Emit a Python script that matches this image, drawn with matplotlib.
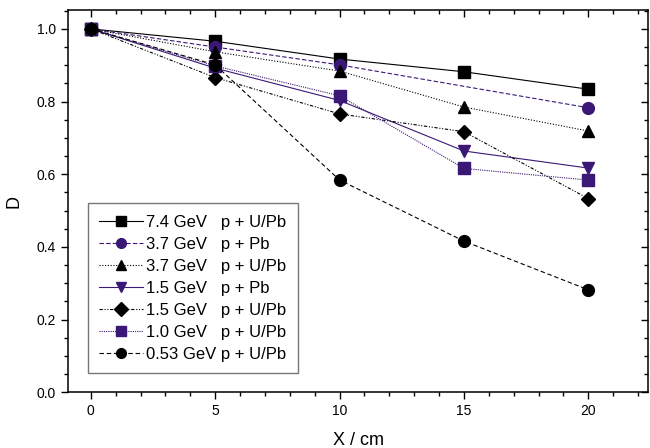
import matplotlib
matplotlib.use("Agg")
import matplotlib.pyplot as plt
from matplotlib.ticker import MultipleLocator

plt.rcParams['font.family'] = ['Liberation Sans', 'DejaVu Sans']

PURPLE = '#3b1876'

# data
x_full = [0, 5, 10, 15, 20]
x_no15 = [0, 5, 10, 20]

d_74_upb = [1.0, 0.966, 0.917, 0.882, 0.834]
d_37_pb = [1.0, 0.950, 0.901, 0.783]
d_37_upb = [1.0, 0.937, 0.884, 0.785, 0.719]
d_15_pb = [1.0, 0.892, 0.803, 0.664, 0.617]
d_15_upb = [1.0, 0.866, 0.766, 0.717, 0.533]
d_10_upb = [1.0, 0.898, 0.816, 0.616, 0.584]
d_053_upb = [1.0, 0.901, 0.584, 0.416, 0.282]

labels = ['7.4 GeV   p + U/Pb', '3.7 GeV   p + Pb', '3.7 GeV   p + U/Pb',
          '1.5 GeV   p + Pb', '1.5 GeV   p + U/Pb', '1.0 GeV   p + U/Pb',
          '0.53 GeV p + U/Pb']

fig = plt.figure(figsize=(6.5, 4.48), dpi=100)
ax = fig.add_axes([0.1046, 0.1243, 0.8924, 0.8534])

lw = 0.8
ax.plot(x_full, d_74_upb, color='black', ls='-', lw=lw, marker='s', ms=8.5, label=labels[0])
ax.plot(x_no15, d_37_pb, color=PURPLE, ls=(0, (4, 2)), lw=lw, marker='o', ms=8.5, label=labels[1])
ax.plot(x_full, d_37_upb, color='black', ls=(0, (1, 1.5)), lw=lw, marker='^', ms=8.5, label=labels[2])
ax.plot(x_full, d_15_pb, color=PURPLE, ls='-', lw=lw, marker='v', ms=8.5, label=labels[3])
ax.plot(x_full, d_15_upb, color='black', ls=(0, (3, 1.5, 1, 1.5, 1, 1.5)), lw=lw, marker='D', ms=7, label=labels[4])
ax.plot(x_full, d_10_upb, color=PURPLE, ls=(0, (1, 1)), lw=lw, marker='s', ms=8.5, label=labels[5])
ax.plot(x_full, d_053_upb, color='black', ls=(0, (4, 2.5)), lw=lw, marker='o', ms=8.5, label=labels[6])

ax.set_xlim(-0.92, 22.4)
ax.set_ylim(0, 1.052)
ax.xaxis.set_major_locator(MultipleLocator(5))
ax.xaxis.set_minor_locator(MultipleLocator(1))
ax.yaxis.set_major_locator(MultipleLocator(0.2))
ax.yaxis.set_minor_locator(MultipleLocator(0.05))
ax.yaxis.set_major_formatter(plt.FuncFormatter(lambda v, p: '{:.1f}'.format(v)))

ax.tick_params(which='both', direction='out', labelsize=10, width=1)
ax.tick_params(which='major', length=5)
ax.tick_params(which='minor', length=3)
ax.tick_params(which='both', top=True, right=True)
for spine in ax.spines.values():
    spine.set_linewidth(1.1)

# mirror ticks on top/right point inward
for tick in ax.xaxis.get_major_ticks() + ax.xaxis.get_minor_ticks():
    tick.tick2line.set_marker(3)
for tick in ax.yaxis.get_major_ticks() + ax.yaxis.get_minor_ticks():
    tick.tick2line.set_marker(0)

ax.set_xlabel('X / cm', fontsize=13, labelpad=10)
ax.set_ylabel('D', fontsize=13, labelpad=10)

leg = ax.legend(loc='lower left', bbox_to_anchor=(0.135, 0.167), bbox_transform=fig.transFigure,
                fontsize=12, frameon=True, fancybox=False, edgecolor='#555555',
                handlelength=2.6, handletextpad=0.2, labelspacing=0.42, borderpad=0.7,
                borderaxespad=0)
leg.get_frame().set_linewidth(1.0)
for h in leg.legend_handles:
    h.set_markersize(7)

fig.savefig('out.png', dpi=100)
